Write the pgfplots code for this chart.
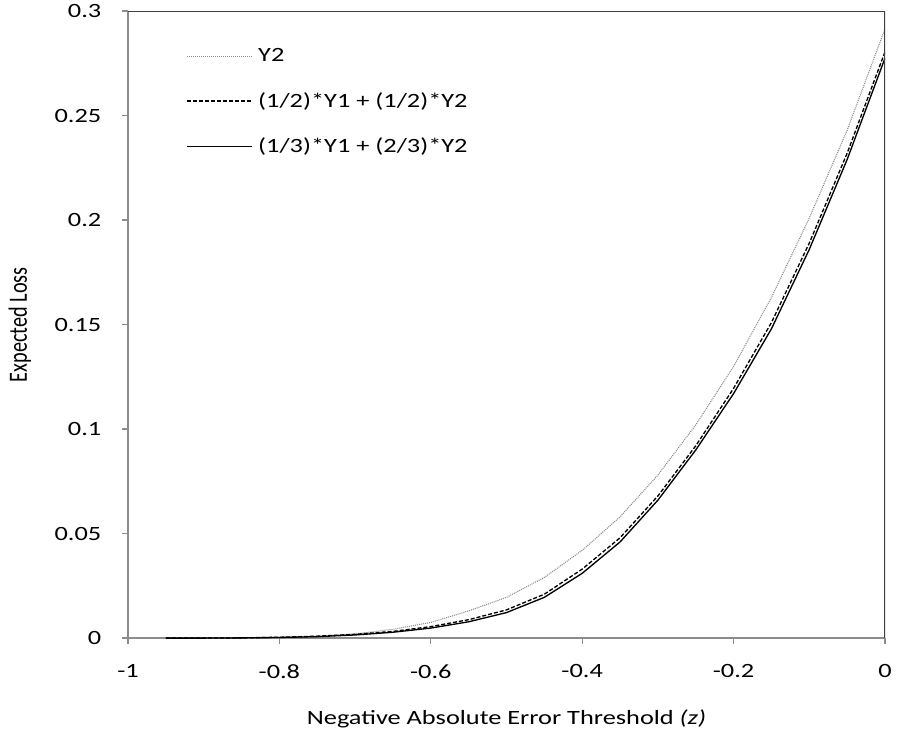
\documentclass[border=0pt]{standalone}
\usepackage{pgfplots}
\pgfplotsset{compat=1.18}
\usepackage{fontspec}
\setmainfont{Carlito}[FakeStretch=1.3]
\newfontfamily\plainfont{Carlito}

\definecolor{axgray}{HTML}{8C8C8C}
\definecolor{frame}{HTML}{404040}
\definecolor{dotgray}{HTML}{8A8A8A}

\pgfplotstableread{
x y
-0.95 0
-0.90 0
-0.85 0.0001
-0.80 0.0003
-0.75 0.0009
-0.70 0.0020
-0.65 0.0042
-0.60 0.0075
-0.55 0.0130
-0.50 0.0195
-0.45 0.0290
-0.40 0.0420
-0.35 0.0580
-0.30 0.0780
-0.25 0.1020
-0.20 0.1300
-0.15 0.1630
-0.10 0.2010
-0.05 0.2430
0.00 0.2915
}\ytwo

\pgfplotstableread{
x y
-0.95 0
-0.90 0
-0.85 0.0001
-0.80 0.0004
-0.75 0.0009
-0.70 0.0018
-0.65 0.0032
-0.60 0.0055
-0.55 0.0088
-0.50 0.0135
-0.45 0.0210
-0.40 0.0330
-0.35 0.0480
-0.30 0.0680
-0.25 0.0920
-0.20 0.1195
-0.15 0.1510
-0.10 0.1890
-0.05 0.2320
0.00 0.2805
}\halfhalf

\pgfplotstableread{
x y
-0.95 0
-0.90 0
-0.85 0.0001
-0.80 0.0003
-0.75 0.0007
-0.70 0.0015
-0.65 0.0028
-0.60 0.0048
-0.55 0.0078
-0.50 0.0122
-0.45 0.0195
-0.40 0.0310
-0.35 0.0460
-0.30 0.0660
-0.25 0.0900
-0.20 0.1170
-0.15 0.1480
-0.10 0.1860
-0.05 0.2290
0.00 0.2775
}\thirdtwo

\begin{document}
\begin{tikzpicture}[font=\fontsize{15.2}{18}\selectfont]
\begin{axis}[
    scale only axis,
    width=567.75pt, height=470.25pt,
    xmin=-1, xmax=0, ymin=0, ymax=0.3,
    xtick={-1,-0.8,-0.6,-0.4,-0.2,0},
    xticklabels={-1,-0.8,-0.6,-0.4,-0.2,0},
    ytick={0,0.05,0.1,0.15,0.2,0.25,0.3},
    yticklabels={0,0.05,0.1,0.15,0.2,0.25,0.3},
    axis lines=left,
    axis line style={-, draw=axgray, line width=1.2pt},
    tick style={draw=axgray, line width=1pt},
    tick align=outside,
    major tick length=4.5pt,
    xticklabel style={yshift=-12pt},
    yticklabel style={xshift=-12pt},
    xlabel={Negative Absolute Error Threshold \textit{(z)}},
    xlabel style={at={(axis description cs:0.5,-0.1292)}, anchor=center},
    ylabel={\plainfont\scalebox{1}[1.3]{Expected Loss}},
    ylabel style={at={(axis description cs:-0.1427,0.5)}, anchor=center},
    legend cell align=left,
    legend style={draw=none, fill=none, at={(0.077,0.945)}, anchor=north west,
        inner sep=0pt, row sep=17.6pt, column sep=2pt},
    legend image code/.code={\draw[#1] (0pt,0pt) -- (48.75pt,0pt);},
]
\addplot[dotgray, line width=0.8pt, dash pattern=on 0.75pt off 0.75pt] table[x=x,y=y] {\ytwo};
\addplot[black, line width=1pt, dash pattern=on 3pt off 1.5pt] table[x=x,y=y] {\halfhalf};
\addplot[black, line width=1pt] table[x=x,y=y] {\thirdtwo};
\legend{Y2, (1/2)*Y1 + (1/2)*Y2, (1/3)*Y1 + (2/3)*Y2}
\draw[frame, line width=1.5pt] (rel axis cs:0,1) -- (rel axis cs:1,1) -- (rel axis cs:1,0);
\coordinate (bl) at (rel axis cs:0,0);
\coordinate (tr) at (rel axis cs:1,1);
\end{axis}
\path ([shift={(-96pt,-72pt)}]bl) rectangle ([shift={(9.75pt,6.75pt)}]tr);
\end{tikzpicture}
\end{document}
